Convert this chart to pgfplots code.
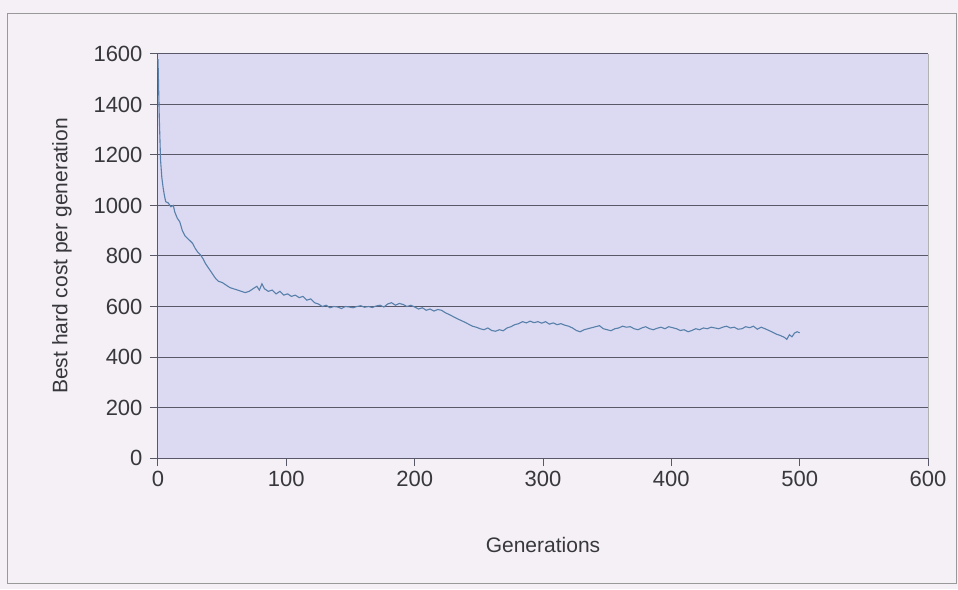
\documentclass[border=0pt]{standalone}
\usepackage{pgfplots}
\pgfplotsset{compat=1.18}
\usepackage{fontspec}
\setmainfont{Liberation Sans}
\definecolor{outerbg}{RGB}{244,240,246}
\definecolor{plotbg}{RGB}{219,218,242}
\definecolor{gridc}{RGB}{88,88,105}
\definecolor{linec}{RGB}{88,128,170}
\definecolor{textc}{RGB}{55,55,60}
\begin{document}
\begin{tikzpicture}
\fill[outerbg] (-158pt,-131pt) rectangle (800pt,458pt);
\draw[gray!80, line width=1pt] (-150pt,-125pt) rectangle (798pt,444pt);
\begin{axis}[
  at={(0pt,0pt)}, anchor=south west,
  scale only axis, width=770pt, height=404pt,
  xmin=0, xmax=600, ymin=0, ymax=1600,
  xtick={0,100,...,600}, ytick={0,200,...,1600},
  axis background/.style={fill=plotbg},
  axis x line*=bottom, axis y line*=left,
  axis line style={gridc, line width=1pt, -},
  ymajorgrids, major grid style={gridc, line width=1pt},
  tick align=outside, major tick length=8pt,
  tick style={gridc, line width=1pt},
  /pgf/number format/assume math mode=true,
  /pgf/number format/1000 sep={},
  ticklabel style={font=\fontsize{22}{26}\selectfont, text=textc},
  xticklabel style={yshift=-2pt},
  yticklabel style={xshift=-4pt},
  xlabel={Generations}, ylabel={Best hard cost per generation},
  every axis x label/.style={at={(axis description cs:0.5,0)}, anchor=center, yshift=-87pt, font=\fontsize{21}{25}\selectfont, text=textc},
  every axis y label/.style={at={(axis description cs:0,0.5)}, rotate=90, anchor=center, yshift=96pt, font=\fontsize{21}{25}\selectfont, text=textc},
  clip=false,
]
\draw[gray!60, line width=0.8pt] (axis cs:600,0) -- (axis cs:600,1600);
\addplot[linec, line width=1.1pt, mark=none] coordinates {
(0,1580)(1,1350)(2,1180)(3,1110)(4,1070)(5,1040)(6,1015)(8,1010)(10,995)(12,1000)
(13,975)(15,950)(17,935)(19,900)(21,880)(23,870)(25,860)(27,850)(29,830)(31,815)
(33,805)(35,790)(37,770)(39,755)(41,740)(43,725)(45,710)(47,700)(50,695)(53,685)
(56,675)(59,670)(62,665)(65,660)(68,655)(71,660)(74,670)(77,680)(79,665)(81,690)
(83,670)(86,660)(89,665)(92,650)(95,660)(98,645)(101,650)(104,640)(107,645)(110,635)
(113,640)(116,625)(119,630)(122,615)(125,610)(128,600)(131,605)(134,595)(137,600)(140,598)
(143,592)(146,600)(149,598)(152,595)(155,600)(158,603)(161,597)(164,600)(167,596)(170,602)
(173,605)(176,598)(179,610)(182,615)(185,605)(188,612)(191,608)(194,600)(197,605)(200,598)
(203,590)(206,595)(209,585)(212,590)(215,582)(218,588)(221,585)(224,575)(227,568)(230,560)
(233,552)(236,545)(239,538)(242,530)(245,522)(248,518)(251,512)(254,508)(257,515)(260,505)
(263,502)(266,508)(269,504)(272,515)(275,520)(278,528)(281,532)(284,540)(287,535)(290,542)
(293,536)(296,540)(299,534)(302,540)(305,530)(308,535)(311,528)(314,532)(317,526)(320,522)
(323,515)(326,505)(329,500)(332,508)(335,512)(338,516)(341,520)(344,524)(347,512)(350,508)
(353,504)(356,512)(359,515)(362,522)(365,518)(368,520)(371,512)(374,508)(377,515)(380,520)
(383,512)(386,508)(389,514)(392,518)(395,512)(398,520)(401,516)(404,512)(407,505)(410,508)
(413,500)(416,505)(419,512)(422,508)(425,515)(428,512)(431,518)(434,515)(437,512)(440,518)
(443,522)(446,515)(449,518)(452,510)(455,512)(458,520)(461,516)(464,522)(467,510)(470,518)
(473,512)(476,505)(479,498)(482,490)(485,485)(488,478)(490,470)(492,488)(494,480)(496,495)
(498,500)(500,496)
};
\end{axis}
\end{tikzpicture}
\end{document}
